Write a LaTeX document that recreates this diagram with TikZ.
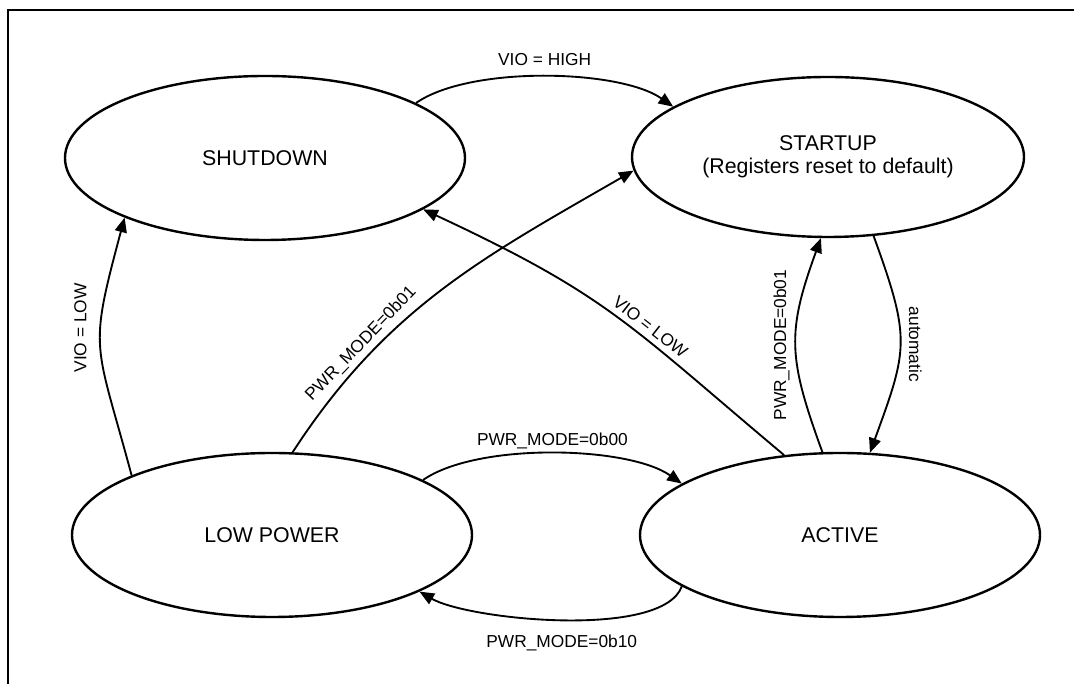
\documentclass[tikz,border=0pt]{standalone}
\usepackage{fontspec}
\setmainfont{Liberation Sans}
\usetikzlibrary{arrows.meta,shapes.geometric,positioning}
\tikzset{
	state diagram/.style={
		x=0.75pt, y=0.75pt,
		every to/.style={draw},
		ar/.style={line width=1.4pt, -{Triangle[length=11pt,width=9pt]}},
		cond/.style={font=\fontsize{13}{15}\selectfont, inner sep=0pt},
		frame/.style={line width=1.5pt}
		},
	state/.style={draw, ellipse, line width=1.8pt, inner sep=0pt,
		minimum width=300pt, minimum height=123pt,
		align=center, font=\fontsize{16}{17.5}\selectfont}
}

\begin{document}
\begin{tikzpicture}[state diagram]
	\useasboundingbox (0,0) rectangle (1074,684);
	\draw[frame] (8,0) -- (8,674) -- (1074,674);
	% states
	\node[state] (shutdown) at (265,526) {SHUTDOWN};
	\node[state, minimum width=294pt, minimum height=120pt] (startup) at (828,527)
		{STARTUP\\(Registers reset to default)};
	\node[state] (lowpower) at (272,149) {LOW POWER};
	\node[state] (active) at (840,149) {ACTIVE};
	% transitions
	\draw[ar] (shutdown.20) to[out=35,in=145,looseness=0.65]
		node[cond,above=7.5pt] {VIO = HIGH} (startup.162);
	\draw[ar] (lowpower.157) to[out=105,in=255,looseness=1.4]
		node[cond,pos=0.6,rotate=90,anchor=south,inner ysep=10pt] {VIO = LOW} (shutdown.203);
	\draw[ar] (lowpower.76) to[out=57,in=210]
		node[cond,sloped,pos=0.27,above=3pt] {PWR\_MODE=0b01} (startup.184);
	\draw[ar] (active.125) to[out=140,in=-25,looseness=1.2]
		node[cond,sloped,pos=0.4,above=4pt] {VIO = LOW} (shutdown.342);
	\draw[ar] (active.102) to[out=110,in=250,looseness=1.2]
		node[cond,pos=0.5,rotate=90,anchor=south,inner ysep=4pt] {PWR\_MODE=0b01} (startup.265);
	\draw[ar] (startup.300) to[out=-70,in=70,looseness=1.3]
		node[cond,pos=0.5,rotate=-90,anchor=south,inner ysep=6pt] {automatic} (active.70);
	\draw[ar] (lowpower.20) to[out=35,in=145,looseness=0.65]
		node[cond,above=3pt] {PWR\_MODE=0b00} (active.162);
	\draw[ar] (active.198) to[out=250,in=-30,looseness=0.55]
		node[cond,below=11pt] {PWR\_MODE=0b10} (lowpower.339);
\end{tikzpicture}
\end{document}
